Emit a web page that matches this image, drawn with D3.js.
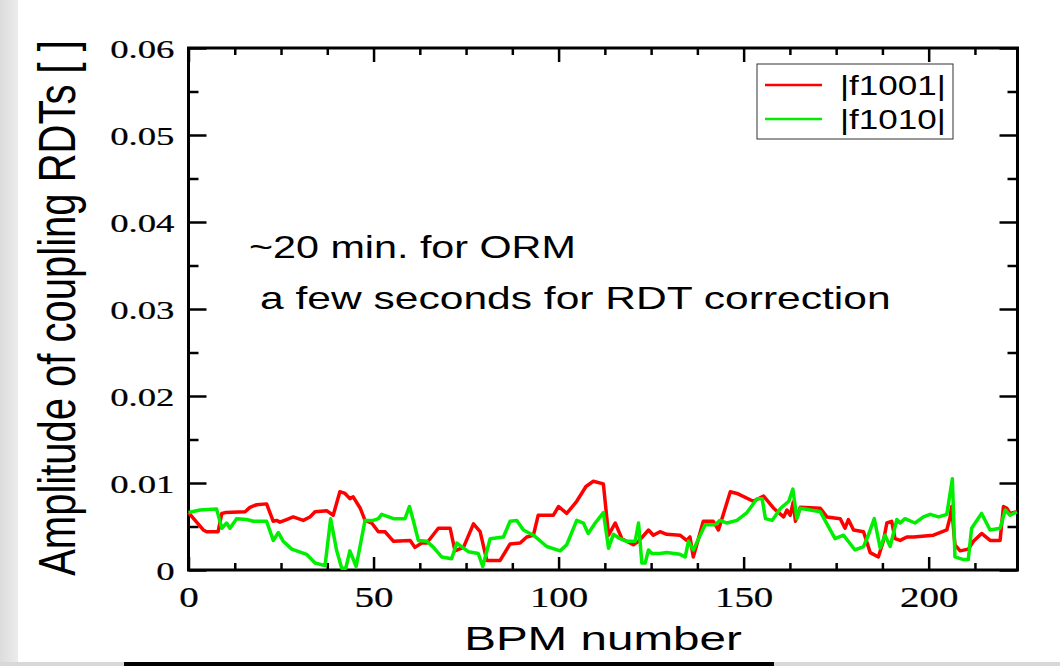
<!DOCTYPE html>
<html>
<head>
<meta charset="utf-8">
<script src="https://cdn.jsdelivr.net/npm/d3@7"></script>
<style>
  body { margin: 0; background: #fff; }
  svg { display: block; }
</style>
</head>
<body>
<div id="chart"></div>
<script>
// BPM index / amplitude
const bpmF1001 = [0,4,4.9,8,9,9.9,15.3,16.6,18.4,21.1,22.9,23.8,24.7,26.5,28.3,31,32.8,34.2,37.4,39.1,40.9,42.3,43.6,44.5,46.4,47.7,49.5,51.3,53.1,55.4,59.9,61.2,63,64.4,67.5,70.7,72,74.3,77,78.8,80.6,84.2,86.9,89.6,91.4,93.2,94.5,98.6,100,102.2,104.9,107.4,109.4,112.1,113.5,115.3,117.1,120.2,121.6,124.3,125.6,127.4,129.2,132.8,134.6,135.5,136.4,139.1,141.8,143.2,146.4,148.2,152.6,155.4,158.1,160.8,161.7,162.6,163.4,164,165.3,170.7,172.5,176.1,177.4,178.3,179.7,182.4,184.2,186.4,187.8,188.7,190,190.9,192.3,194.1,195.9,201.3,204.9,205.8,206.2,207.1,208.5,210.7,212.1,214.3,216.6,219.3,220.2,221.1,222,223.8];
const f1001 = [0.0066,0.0046,0.0044,0.0044,0.0065,0.0066,0.0067,0.0072,0.0075,0.0076,0.0056,0.0057,0.0055,0.0058,0.0061,0.0057,0.0061,0.0067,0.0068,0.0063,0.0090,0.0088,0.0082,0.0084,0.0071,0.0057,0.0054,0.0044,0.0044,0.0033,0.0034,0.0026,0.0031,0.0031,0.0048,0.0048,0.0022,0.0026,0.0053,0.0044,0.0011,0.0011,0.0030,0.0031,0.0038,0.0040,0.0063,0.0063,0.0073,0.0065,0.0079,0.0096,0.0102,0.0099,0.0040,0.0054,0.0036,0.0029,0.0033,0.0046,0.0040,0.0044,0.0041,0.0040,0.0034,0.0038,0.0015,0.0056,0.0056,0.0046,0.0090,0.0088,0.0079,0.0085,0.0071,0.0061,0.0069,0.0063,0.0078,0.0056,0.0072,0.0071,0.0061,0.0059,0.0048,0.0058,0.0046,0.0044,0.0020,0.0015,0.0034,0.0054,0.0056,0.0036,0.0034,0.0038,0.0038,0.0040,0.0046,0.0061,0.0073,0.0029,0.0022,0.0024,0.0033,0.0042,0.0034,0.0034,0.0073,0.0071,0.0065,0.0067];

const bpmF1010 = [0,3.1,7.6,9,10.3,11.2,13,15.7,17.5,21.1,22.9,24.3,25.6,27.9,31.9,34.2,36.9,38.4,40,41.4,42.5,43.6,45.3,47.7,49.9,51.3,52.2,53.5,55.4,58.5,59.7,60.8,62.1,64.4,66.2,68.4,71.1,72.5,75.6,78.3,79.5,81.5,85.1,86.9,88.7,90.5,93.2,96.8,100.4,102.2,104.9,106.7,108,109.9,112.1,113.5,114.8,116.6,118.4,120.7,121.6,122.5,123.4,124.3,125.2,127.4,129.2,132.8,134.2,135.1,136.4,139.6,142.3,143.6,145.5,148.2,150.9,153.6,155,155.9,157.7,160,162.2,163.3,164.4,165.3,170.7,174.7,177,180.1,182.4,183.7,185.3,186.9,188.2,189.6,191.4,192.3,193.6,196.3,198.6,200.4,202.7,204.9,206.4,207.1,209.4,210.7,211.6,214.3,216.6,219.3,220.7,222,223.8];
const f1010 = [0.0066,0.0069,0.0070,0.0048,0.0054,0.0048,0.0059,0.0058,0.0056,0.0056,0.0034,0.0043,0.0033,0.0024,0.0018,0.0008,0.0005,0.0059,0.0023,0.0002,0.0002,0.0022,0.0004,0.0057,0.0057,0.0059,0.0064,0.0062,0.0059,0.0059,0.0073,0.0056,0.0034,0.0033,0.0026,0.0015,0.0013,0.0031,0.0021,0.0019,0.0004,0.0036,0.0038,0.0056,0.0057,0.0046,0.0040,0.0027,0.0022,0.0029,0.0057,0.0054,0.0042,0.0054,0.0066,0.0025,0.0041,0.0036,0.0033,0.0033,0.0054,0.0008,0.0008,0.0023,0.0019,0.0019,0.0020,0.0018,0.0015,0.0033,0.0023,0.0052,0.0052,0.0057,0.0054,0.0057,0.0066,0.0082,0.0082,0.0059,0.0057,0.0071,0.0079,0.0093,0.0059,0.0071,0.0067,0.0036,0.0040,0.0023,0.0027,0.0040,0.0059,0.0025,0.0040,0.0027,0.0058,0.0054,0.0059,0.0054,0.0061,0.0064,0.0061,0.0064,0.0105,0.0015,0.0012,0.0012,0.0048,0.0065,0.0046,0.0048,0.0069,0.0063,0.0067];

const xMajorTicks = [0, 50, 100, 150, 200];
const yMajorTicks = [0, 0.01, 0.02, 0.03, 0.04, 0.05, 0.06];
const seriesNames = ["|f1001|", "|f1010|"];
const seriesColors = ["#ff0000", "#00ee00"];

const W = 1060, H = 666;
const svg = d3.select("#chart").append("svg").attr("width", W).attr("height", H);

// page decoration: grey strip at the left, grey band + black rule at the bottom
const grad = svg.append("defs").append("linearGradient").attr("id", "lg")
  .attr("x1", 0).attr("x2", 1).attr("y1", 0).attr("y2", 0);
grad.append("stop").attr("offset", "0%").attr("stop-color", "#dcdcdc");
grad.append("stop").attr("offset", "100%").attr("stop-color", "#ececec");
svg.append("rect").attr("x", 0).attr("y", 0).attr("width", 18).attr("height", H).attr("fill", "url(#lg)");
svg.append("rect").attr("x", 0).attr("y", 662).attr("width", W).attr("height", 4).attr("fill", "#d8d8d8");
svg.append("rect").attr("x", 124).attr("y", 662).attr("width", 650).attr("height", 4).attr("fill", "#000");

const x = d3.scaleLinear().domain([0, 224]).range([188.5, 1017.5]);
const y = d3.scaleLinear().domain([0, 0.06]).range([570, 48]);

const xMinor = d3.range(0, 225, 12.5).filter(v => v % 50 !== 0);
const yMinor = d3.range(0.005, 0.06, 0.01);

const serif = "'Liberation Serif', 'DejaVu Serif', serif";
const sans = "'Liberation Sans', Arial, sans-serif";

function styleAxis(g) {
  g.select(".domain").remove();
  g.selectAll(".tick line").attr("stroke", "#000").attr("stroke-width", 2.5);
}

// bottom
svg.append("g").attr("transform", "translate(0,570)")
  .call(d3.axisBottom(x).tickValues(xMajorTicks).tickSize(-13).tickFormat(d3.format("d")))
  .call(styleAxis)
  .call(g => g.selectAll("text")
    .attr("y", null).attr("dy", null)
    .attr("transform", "translate(0,37) scale(1.32,1)")
    .attr("font-family", serif)
    .attr("font-size", 29.5).attr("fill", "#000")
    .attr("stroke", "#000").attr("stroke-width", 0.25));
svg.append("g").attr("transform", "translate(0,570)")
  .call(d3.axisBottom(x).tickValues(xMinor).tickSize(-7).tickFormat(""))
  .call(styleAxis);

// top
svg.append("g").attr("transform", "translate(0,48)")
  .call(d3.axisTop(x).tickValues(xMajorTicks).tickSize(-14).tickFormat(""))
  .call(styleAxis);
svg.append("g").attr("transform", "translate(0,48)")
  .call(d3.axisTop(x).tickValues(xMinor).tickSize(-7).tickFormat(""))
  .call(styleAxis);

// left
svg.append("g").attr("transform", "translate(188.5,0)")
  .call(d3.axisLeft(y).tickValues(yMajorTicks).tickSize(-18)
    .tickFormat(d => d === 0 ? "0" : d3.format(".2f")(d)))
  .call(styleAxis)
  .call(g => g.selectAll("text")
    .attr("x", null).attr("dy", null)
    .attr("text-anchor", "end")
    .attr("transform", "translate(-14,9) scale(1.5,1)")
    .attr("font-family", serif)
    .attr("font-size", 24.5).attr("fill", "#000")
    .attr("stroke", "#000").attr("stroke-width", 0.2));
svg.append("g").attr("transform", "translate(188.5,0)")
  .call(d3.axisLeft(y).tickValues(yMinor).tickSize(-10).tickFormat(""))
  .call(styleAxis);

// right
svg.append("g").attr("transform", "translate(1017.5,0)")
  .call(d3.axisRight(y).tickValues(yMajorTicks).tickSize(-18).tickFormat(""))
  .call(styleAxis);
svg.append("g").attr("transform", "translate(1017.5,0)")
  .call(d3.axisRight(y).tickValues(yMinor).tickSize(-10).tickFormat(""))
  .call(styleAxis);

// frame
svg.append("rect")
  .attr("x", x(0)).attr("y", y(0.06))
  .attr("width", x(224) - x(0)).attr("height", y(0) - y(0.06))
  .attr("fill", "none").attr("stroke", "#000").attr("stroke-width", 3);

// series
const line = d3.line().x(d => x(d[0])).y(d => y(d[1]));
const series = [
  d3.zip(bpmF1001, f1001),
  d3.zip(bpmF1010, f1010)
];
series.forEach((s, i) => {
  svg.append("path").datum(s)
    .attr("d", line)
    .attr("fill", "none")
    .attr("stroke", seriesColors[i])
    .attr("stroke-width", 3.5)
    .attr("stroke-linejoin", "round");
});

// legend
const leg = svg.append("g");
leg.append("rect").attr("x", 757).attr("y", 64).attr("width", 196).attr("height", 75)
  .attr("fill", "#fff").attr("stroke", "#333").attr("stroke-width", 1);
seriesNames.forEach((n, i) => {
  const yy = 85 + i * 34;
  leg.append("line").attr("x1", 765).attr("x2", 822).attr("y1", yy).attr("y2", yy)
    .attr("stroke", seriesColors[i]).attr("stroke-width", 2.5);
  leg.append("text")
    .attr("transform", `translate(840,${yy + 10}) scale(1.25,1)`)
    .attr("font-family", sans)
    .attr("font-size", 28).attr("fill", "#000")
    .text(n);
});

// annotation
const note = ["~20 min. for ORM", "a few seconds for RDT correction"];
svg.append("text")
  .attr("transform", "translate(249,258) scale(1.29,1)")
  .attr("font-family", sans)
  .attr("font-size", 32).attr("fill", "#000").text(note[0]);
svg.append("text")
  .attr("transform", "translate(260,309) scale(1.33,1)")
  .attr("font-family", sans)
  .attr("font-size", 32).attr("fill", "#000").text(note[1]);

// axis titles
svg.append("text")
  .attr("transform", "translate(603,650) scale(1.4,1)")
  .attr("text-anchor", "middle")
  .attr("font-family", sans)
  .attr("font-size", 34).attr("fill", "#000")
  .text("BPM number");
svg.append("text")
  .attr("transform", "translate(75,308) rotate(-90) scale(1,1.3)")
  .attr("text-anchor", "middle")
  .attr("font-family", sans)
  .attr("font-size", 40).attr("fill", "#000")
  .text("Amplitude of coupling RDTs [ ]");
</script>
</body>
</html>
